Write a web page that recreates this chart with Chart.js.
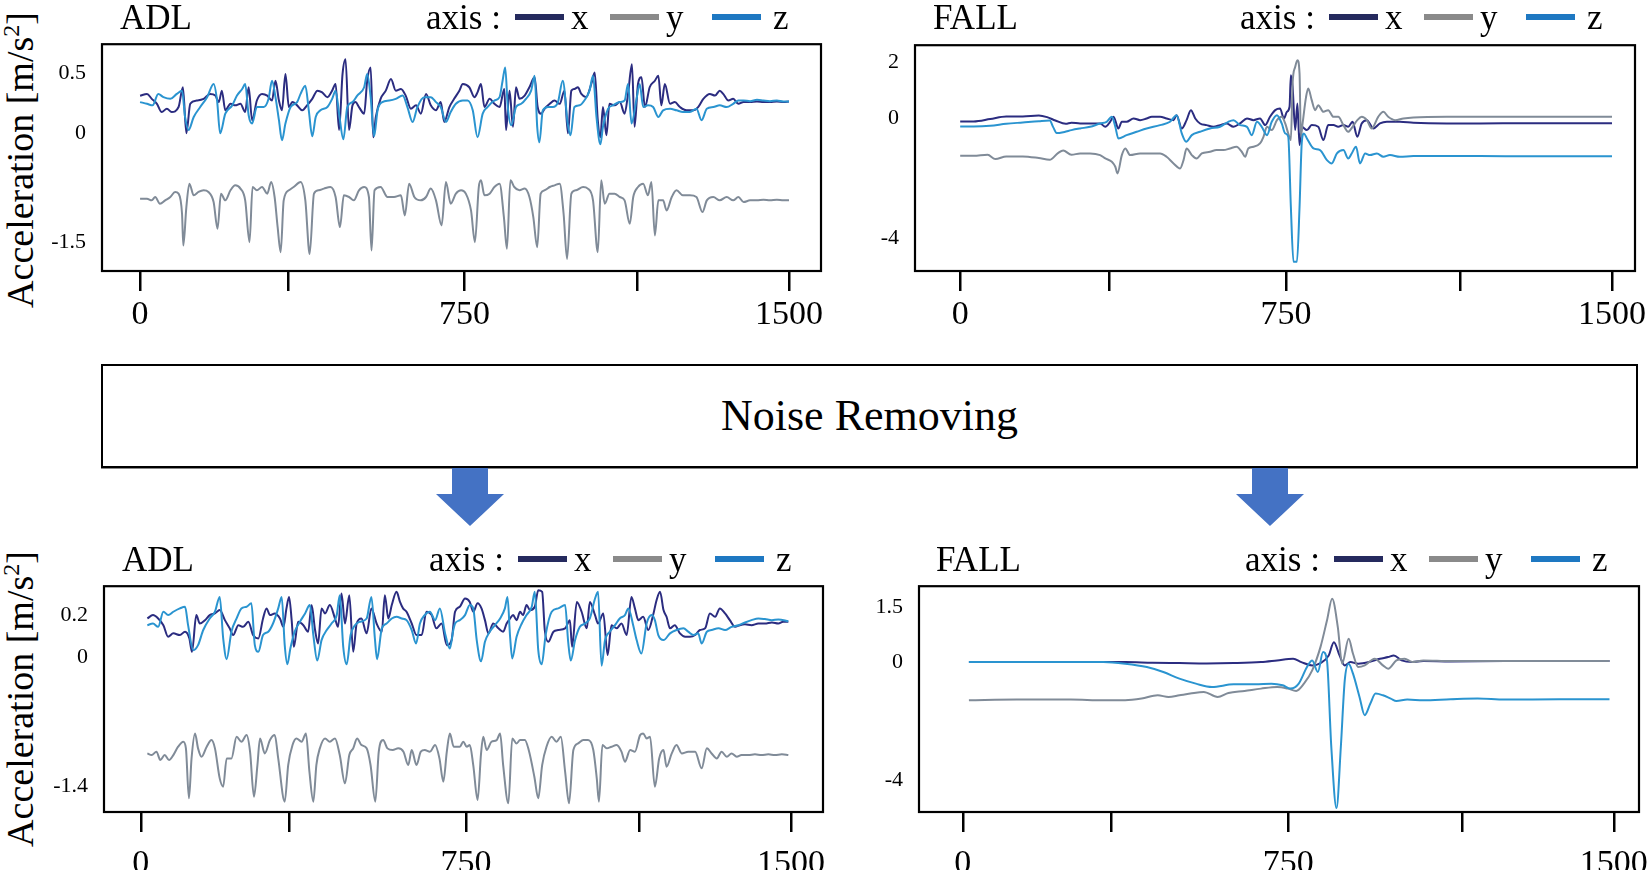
<!DOCTYPE html>
<html>
<head>
<meta charset="utf-8">
<script src="https://cdn.jsdelivr.net/npm/chart.js@4.4.1/dist/chart.umd.min.js"></script>
<style>
html, body { margin: 0; padding: 0; background: #fff; }
body { width: 1650px; height: 870px; position: relative; overflow: hidden; font-family: "Liberation Serif", serif; color: #000; }
.abs { position: absolute; }
.txt { position: absolute; line-height: 1; white-space: nowrap; }
.ylab { position: absolute; white-space: nowrap; font-size: 38px; line-height: 1; transform: translate(-50%, -50%) rotate(-90deg); }
.ylab sup { font-size: 24px; vertical-align: 14px; line-height: 0; }
.lgline { position: absolute; height: 6px; }
.noise { position: absolute; left: 101px; top: 364px; width: 1537px; height: 104px; box-sizing: border-box; border: 2px solid #000; display: flex; align-items: center; justify-content: center; font-size: 44px; line-height: 1; box-shadow: 0 1px 0 #888; }
.arrow { position: absolute; top: 468px; width: 68px; height: 58px; background: #4472c4; clip-path: polygon(23.5% 0, 76.5% 0, 76.5% 45%, 100% 45%, 50% 100%, 0 45%, 23.5% 45%); }
</style>
</head>
<body>
<div class="noise">Noise Removing</div>
<div class="arrow" style="left:436px"></div>
<div class="arrow" style="left:1236px"></div>
<div class="ylab" style="left:20px;top:160px">Acceleration [m/s<sup>2</sup>]</div>
<div class="ylab" style="left:20px;top:699px">Acceleration [m/s<sup>2</sup>]</div>
<script>
// x axis ticks shared by all four panels
var xTickValues = [0, 343, 750, 1150, 1500];
var xTickLabels = ['0', '', '750', '', '1500'];

// y tick labels of each panel
var adlRawTicks = [0.5, 0, -1.5];
var fallRawTicks = [2, 0, -4];
var adlCleanTicks = [0.2, 0, -1.4];
var fallCleanTicks = [1.5, 0, -4];

var axisNames = ['x', 'y', 'z'];

// ADL, raw signal: [sample, acceleration]
var adlRawX = [[0,.31],[16,.325],[27,.284],[39,.243],[50,.175],[62,.202],[73,.175],[89,.216],[99,.38],[107,-.003],[116,.243],[131,.27],[147,.284],[162,.325],[174,.311],[182,.257],[189,.352],[197,.189],[209,.243],[220,.23],[232,.243],[243,.175],[251,.38],[259,.107],[270,.27],[282,.325],[294,.311],[305,.27],[313,.434],[321,.27],[328,.189],[336,.489],[344,.216],[352,.257],[363,.23],[375,.189],[386,.23],[398,.284],[410,.352],[421,.338],[433,.298],[444,.352],[452,.407],[460,.025],[468,.489],[475,.612],[483,.025],[491,.23],[498,.257],[506,.216],[518,.161],[525,.434],[533,.544],[539,-.057],[545,.134],[556,.284],[568,.352],[580,.448],[591,.352],[603,.366],[614,.311],[626,.202],[638,.23],[649,.161],[661,.325],[672,.23],[684,.189],[695,.257],[703,.093],[715,.216],[726,.284],[738,.352],[746,.407],[761,.38],[773,.298],[780,.338],[788,.407],[796,.216],[808,.284],[819,.243],[831,.216],[842,.366],[846,.025],[854,.352],[862,.052],[869,.38],[877,.284],[889,.311],[900,.38],[912,.462],[919,.216],[927,.161],[935,.202],[947,.243],[958,.27],[970,.243],[981,.352],[989,-.003],[997,.352],[1004,.366],[1012,.38],[1020,.325],[1031,.298],[1043,.407],[1051,.503],[1058,.107],[1064,-.057],[1070,.216],[1078,-.03],[1085,.243],[1097,.23],[1109,.257],[1120,.161],[1128,.325],[1137,.571],[1143,.052],[1151,.407],[1159,.462],[1167,.216],[1178,.38],[1190,.434],[1198,.475],[1205,.23],[1213,.407],[1225,.243],[1236,.257],[1248,.216],[1263,.189],[1279,.189],[1290,.216],[1302,.284],[1317,.325],[1329,.311],[1340,.352],[1348,.325],[1360,.27],[1371,.284],[1383,.243],[1395,.257],[1410,.257],[1426,.262],[1441,.257],[1456,.257],[1472,.262],[1487,.257],[1500,.262]];
var adlRawY = [[0,-.899],[16,-.899],[27,-.922],[35,-.876],[46,-.968],[58,-.922],[70,-.876],[81,-.807],[89,-.83],[97,-1.106],[100,-1.541],[107,-1.014],[114,-.693],[124,-.853],[135,-.807],[147,-.784],[158,-.807],[170,-.945],[179,-1.312],[187,-.83],[197,-.922],[209,-.784],[220,-.716],[232,-.761],[243,-.922],[253,-1.495],[260,-.739],[270,-.784],[282,-.739],[294,-.83],[303,-.67],[311,-.876],[318,-1.289],[325,-1.633],[332,-.922],[344,-.784],[355,-.739],[371,-.67],[382,-.922],[392,-1.656],[402,-.83],[413,-.784],[425,-.761],[440,-.739],[452,-.876],[462,-1.289],[471,-.853],[483,-.876],[494,-.922],[506,-.784],[518,-.739],[529,-.876],[535,-1.61],[542,-.784],[556,-.739],[572,-.876],[587,-.876],[603,-.853],[612,-1.128],[622,-.693],[634,-.876],[649,-.922],[661,-.876],[672,-.761],[684,-.922],[697,-1.266],[707,-.67],[718,-.968],[730,-.83],[742,-.784],[753,-.83],[765,-1.06],[774,-1.495],[783,-.739],[788,-.647],[796,-.853],[808,-.83],[819,-.739],[831,-.693],[841,-1.151],[848,-1.587],[856,-.647],[865,-.739],[877,-.784],[889,-.761],[900,-.876],[909,-1.151],[918,-1.564],[926,-.83],[935,-.784],[947,-.739],[958,-.716],[970,-.693],[979,-1.106],[987,-1.725],[997,-.83],[1008,-.784],[1024,-.739],[1035,-.761],[1047,-.922],[1058,-1.633],[1066,-.647],[1074,-.968],[1085,-.83],[1097,-.83],[1109,-.876],[1120,-.922],[1132,-1.243],[1140,-.876],[1151,-.739],[1163,-.693],[1174,-.853],[1182,-.67],[1190,-1.404],[1198,-.922],[1209,-.922],[1217,-1.06],[1229,-.876],[1240,-.784],[1255,-.853],[1271,-.853],[1286,-.876],[1300,-1.083],[1310,-.922],[1325,-.876],[1340,-.922],[1356,-.876],[1371,-.922],[1383,-.876],[1395,-.945],[1410,-.922],[1426,-.922],[1441,-.912],[1456,-.922],[1472,-.912],[1487,-.922],[1500,-.922]];
var adlRawZ = [[0,.257],[16,.243],[29,.23],[42,.325],[54,.298],[70,.284],[85,.325],[97,.352],[104,.134],[112,.025],[124,.134],[139,.216],[155,.298],[170,.407],[178,.27],[185,-.003],[197,.161],[213,.23],[224,.311],[236,.366],[243,.407],[251,.148],[259,.079],[270,.216],[286,.216],[297,.284],[305,.434],[313,.298],[321,.107],[328,-.098],[336,.079],[348,.216],[363,.257],[371,.325],[382,.393],[390,.189],[398,-.044],[406,.134],[417,.189],[433,.216],[444,.284],[452,.352],[460,.161],[470,-.085],[479,.216],[491,.257],[502,.311],[518,.38],[525,.489],[533,.298],[541,-.044],[549,.189],[560,.257],[576,.27],[591,.284],[607,.311],[618,.216],[630,.093],[641,.216],[657,.298],[672,.298],[684,.257],[695,.216],[707,.093],[718,.175],[730,.243],[746,.27],[757,.27],[769,.189],[780,-.057],[792,.161],[803,.216],[819,.27],[831,.298],[838,.434],[844,.544],[850,.216],[858,.066],[869,.216],[881,.243],[892,.284],[904,.352],[912,.475],[918,.052],[923,-.126],[931,.189],[943,.216],[954,.216],[966,.257],[977,.434],[989,.066],[995,-.03],[1004,.216],[1016,.23],[1027,.27],[1039,.352],[1047,.475],[1055,.134],[1064,-.153],[1070,.052],[1082,.202],[1093,.23],[1109,.257],[1120,.27],[1128,.407],[1136,.079],[1147,.27],[1155,.407],[1163,.216],[1174,.23],[1186,.216],[1198,.134],[1209,.189],[1225,.202],[1240,.189],[1255,.175],[1271,.175],[1286,.202],[1298,.107],[1310,.202],[1325,.216],[1340,.23],[1356,.216],[1371,.243],[1383,.27],[1395,.27],[1410,.265],[1426,.276],[1441,.27],[1456,.265],[1472,.27],[1487,.262],[1500,.262]];

// FALL, raw signal
var fallRawX = [[0,-.11],[31,-.11],[69,-.03],[106,.06],[144,.06],[181,.095],[200,.036],[219,-.078],[243,-.19],[256,-.15],[276,-.178],[299,-.178],[322,-.178],[334,-.289],[345,-.122],[353,.048],[364,-.344],[372,-.122],[383,-.122],[399,-.011],[414,-.067],[429,-.011],[441,.048],[460,.048],[475,-.011],[491,-.067],[498,.107],[510,-.344],[521,-.067],[531,.286],[541,-.011],[552,-.178],[567,-.233],[583,-.289],[598,-.233],[613,-.178],[629,-.289],[644,-.178],[660,-.011],[675,-.067],[690,-.011],[702,-.233],[713,.048],[725,.286],[736,.345],[745,-.011],[752,.226],[758,.405],[761,1.536],[765,1.119],[771,-.4],[776,.524],[781,-.9],[786,-.289],[798,-.4],[809,-.233],[824,-.289],[836,-.733],[847,-.233],[859,-.233],[870,-.289],[882,-.233],[893,-.289],[903,-.122],[914,-.622],[924,-.178],[936,-.067],[951,-.344],[966,-.178],[982,-.122],[1012,-.122],[1043,-.156],[1120,-.178],[1196,-.178],[1300,-.17],[1400,-.17],[1500,-.17]];
var fallRawY = [[0,-1.256],[31,-1.256],[63,-1.222],[81,-1.367],[106,-1.278],[144,-1.278],[181,-1.333],[206,-1.389],[225,-1.167],[237,-1.078],[256,-1.222],[276,-1.178],[299,-1.178],[322,-1.233],[334,-1.344],[349,-1.456],[357,-1.622],[362,-1.844],[372,-1.233],[380,-1.011],[391,-1.233],[414,-1.178],[437,-1.178],[460,-1.178],[475,-1.289],[491,-1.511],[506,-1.678],[514,-1.4],[521,-1.011],[533,-1.233],[544,-1.344],[556,-1.178],[575,-1.122],[590,-1.067],[606,-1.067],[621,-1.011],[636,-.956],[648,-1.122],[656,-1.289],[663,-1.011],[675,-.956],[690,-.844],[698,-.622],[706,-.289],[717,-.4],[729,-.067],[740,.048],[748,-.178],[755,-.511],[761,-.733],[765,1.238],[771,1.833],[776,2.071],[781,1.595],[784,-.622],[788,-.178],[796,.762],[801,1.06],[809,.643],[817,.286],[824,.464],[836,.226],[847,.286],[859,.048],[870,.048],[882,-.233],[893,-.456],[903,-.289],[914,-.067],[924,.048],[936,-.067],[947,-.344],[962,.048],[974,.226],[985,.048],[1001,-.067],[1020,-.011],[1043,.024],[1120,.048],[1196,.048],[1300,.05],[1400,.05],[1500,.05]];
var fallRawZ = [[0,-.278],[31,-.278],[69,-.256],[106,-.189],[144,-.144],[181,-.1],[206,-.078],[214,-.3],[222,-.5],[240,-.46],[256,-.4],[276,-.344],[299,-.289],[322,-.178],[337,-.122],[349,.048],[357,-.289],[364,-.678],[383,-.567],[406,-.456],[429,-.344],[460,-.233],[483,-.122],[498,.107],[510,-.511],[520,-.789],[533,-.567],[552,-.456],[575,-.344],[598,-.289],[617,-.122],[629,-.067],[644,-.233],[660,-.289],[671,-.567],[683,-.122],[694,-.289],[706,-.567],[717,-.122],[729,.107],[740,-.178],[748,-.511],[755,-.622],[761,-2.956],[767,-4.789],[775,-4.789],[781,-2.956],[786,-.844],[791,-.511],[798,-.678],[813,-1.011],[828,-1.067],[844,-1.4],[855,-1.511],[867,-1.178],[882,-1.067],[893,-1.344],[901,-1.178],[911,-.956],[920,-1.511],[932,-1.178],[943,-1.233],[959,-1.178],[974,-1.289],[989,-1.233],[1012,-1.289],[1043,-1.267],[1120,-1.267],[1196,-1.267],[1300,-1.27],[1400,-1.27],[1500,-1.27]];

// ADL, after noise removing
var adlCleanX = [[15,.184],[28,.2],[40,.184],[52,.152],[63,.097],[75,.113],[90,.105],[102,.121],[112,.089],[118,.025],[128,.2],[136,.16],[148,.176],[159,.2],[171,.208],[182,.224],[194,.176],[205,.137],[213,.105],[225,.152],[236,.144],[248,.168],[259,.105],[271,.089],[282,.184],[290,.232],[298,.2],[309,.208],[321,.184],[329,.144],[336,.232],[342,.287],[348,.176],[353,.049],[363,.168],[375,.152],[386,.121],[394,.248],[402,.129],[409,.065],[417,.232],[425,.208],[436,.248],[448,.184],[455,.144],[463,.303],[471,.16],[481,.295],[490,.025],[498,.16],[509,.184],[521,.113],[532,.232],[544,.16],[556,.121],[563,.295],[571,.184],[579,.248],[590,.311],[598,.263],[605,.232],[613,.216],[625,.16],[636,.105],[648,.105],[659,.216],[671,.2],[682,.137],[694,.16],[706,.057],[717,.081],[725,.216],[736,.24],[748,.279],[759,.263],[767,.216],[777,.256],[786,.232],[794,.176],[802,.113],[813,.16],[825,.137],[836,.121],[844,.16],[852,.184],[859,.2],[867,.176],[875,.216],[882,.2],[890,.248],[898,.224],[909,.24],[917,.319],[926,.311],[932,.129],[940,.073],[952,.121],[963,.129],[979,.137],[990,.176],[995,.049],[1006,.263],[1017,.216],[1029,.137],[1036,.263],[1048,.2],[1055,.16],[1067,.208],[1077,.01],[1086,.152],[1098,.137],[1109,.16],[1121,.105],[1132,.287],[1140,.232],[1148,.176],[1159,.192],[1171,.129],[1182,.2],[1190,.271],[1198,.311],[1206,.224],[1213,.192],[1221,.137],[1232,.152],[1244,.113],[1256,.097],[1267,.097],[1279,.105],[1290,.129],[1302,.137],[1313,.208],[1325,.192],[1336,.232],[1348,.208],[1359,.176],[1371,.144],[1382,.152],[1394,.156],[1409,.152],[1425,.16],[1440,.16],[1456,.165],[1471,.16],[1482,.168],[1494,.168]];
var adlCleanY = [[15,-1.046],[25,-1.064],[36,-1.027],[45,-1.118],[55,-1.064],[65,-1.118],[75,-1.064],[86,-.973],[98,-.919],[104,-.991],[111,-1.534],[117,-1.1],[125,-.829],[132,-.991],[140,-1.082],[152,-.973],[163,-.901],[171,-.991],[182,-1.317],[190,-1.407],[198,-1.1],[209,-1.1],[221,-.865],[232,-.919],[244,-.847],[252,-1.027],[261,-1.516],[269,-1.172],[275,-.883],[286,-1.046],[298,-.901],[309,-.847],[317,-1.1],[332,-1.57],[340,-1.172],[350,-.955],[359,-.883],[371,-.919],[381,-.829],[389,-1.245],[398,-1.57],[405,-1.172],[413,-.991],[425,-.883],[436,-.919],[448,-.883],[459,-1.064],[471,-1.371],[481,-1.064],[490,-.991],[499,-.883],[509,-.955],[521,-.991],[530,-1.172],[541,-1.57],[549,-1.027],[559,-.901],[569,-.991],[581,-1.009],[594,-.991],[606,-1.027],[617,-1.172],[625,-1.009],[636,-1.172],[646,-1.027],[655,-1.009],[667,-1.027],[679,-.955],[689,-1.1],[698,-1.353],[706,-1.027],[713,-.829],[722,-.973],[736,-.973],[744,-.919],[752,-.973],[759,-.955],[767,-1.172],[777,-1.552],[785,-1.046],[790,-.865],[798,-1.009],[809,-.919],[821,-.901],[829,-.829],[836,-1.172],[848,-1.588],[857,-.883],[867,-.937],[875,-.901],[886,-.901],[895,-1.009],[908,-1.299],[917,-1.534],[926,-1.172],[936,-.973],[948,-.865],[959,-.919],[969,-.865],[979,-1.245],[988,-1.588],[998,-1.009],[1009,-.937],[1021,-.901],[1032,-.901],[1044,-1.009],[1052,-1.317],[1057,-1.57],[1065,-.955],[1075,-.991],[1086,-.973],[1098,-.955],[1109,-1.027],[1117,-1.136],[1129,-1.009],[1140,-1.027],[1152,-.847],[1159,-.829],[1167,-.883],[1175,-.865],[1186,-1.407],[1196,-1.1],[1206,-1.009],[1213,-1.19],[1225,-1.046],[1236,-.955],[1248,-1.046],[1263,-1.027],[1279,-1.027],[1294,-1.208],[1306,-.991],[1317,-1.046],[1329,-1.1],[1340,-1.027],[1352,-1.082],[1363,-1.046],[1375,-1.082],[1386,-1.064],[1402,-1.064],[1417,-1.056],[1432,-1.064],[1448,-1.056],[1463,-1.064],[1479,-1.056],[1494,-1.064]];
var adlCleanZ = [[15,.152],[28,.16],[40,.144],[52,.216],[63,.2],[75,.216],[90,.232],[102,.24],[109,.152],[121,.033],[132,.057],[144,.129],[159,.184],[171,.216],[182,.287],[190,.089],[198,-.022],[209,.121],[221,.184],[232,.232],[244,.24],[255,.256],[263,.057],[271,.025],[282,.105],[294,.121],[305,.16],[317,.232],[325,.287],[332,.057],[338,-.078],[345,.041],[355,.121],[367,.168],[379,.208],[390,.248],[398,.105],[407,-.038],[417,.081],[429,.129],[440,.16],[452,.2],[459,.295],[467,.049],[475,-.078],[484,.105],[494,.152],[505,.168],[521,.184],[532,.287],[540,.089],[545,-.022],[556,.137],[567,.16],[579,.184],[590,.192],[602,.184],[613,.176],[625,.129],[635,.065],[644,.16],[655,.2],[667,.216],[679,.176],[690,.232],[702,.113],[713,.041],[721,.129],[725,.16],[736,.176],[748,.2],[759,.248],[767,.232],[775,.081],[785,-.046],[794,.073],[805,.121],[817,.152],[829,.184],[840,.232],[846,.287],[852,.097],[857,-.014],[867,.097],[879,.16],[890,.2],[902,.24],[909,.311],[917,.033],[925,-.078],[934,.105],[948,.216],[963,.232],[979,.248],[986,.073],[992,-.038],[1002,.081],[1013,.144],[1025,.16],[1036,.184],[1048,.279],[1055,.311],[1063,-.094],[1071,.081],[1082,.121],[1094,.152],[1105,.184],[1117,.2],[1125,.232],[1136,.152],[1144,.081],[1155,.017],[1167,.16],[1179,.2],[1186,.176],[1194,.105],[1206,.081],[1221,.113],[1236,.129],[1252,.137],[1263,.121],[1275,.105],[1286,.113],[1294,.065],[1306,.121],[1317,.129],[1333,.137],[1348,.129],[1363,.144],[1379,.152],[1394,.165],[1409,.176],[1425,.184],[1440,.181],[1456,.176],[1471,.179],[1494,.171]];

// FALL, after noise removing
var fallCleanX = [[14,0],[124,0],[249,0],[324,0],[374,0],[437,-.023],[499,-.034],[562,-.045],[624,-.034],[687,0],[724,.045],[761,.091],[780,0],[805,-.113],[824,-.034],[843,.182],[855,.545],[868,.182],[880,-.113],[893,0],[911,-.056],[936,0],[961,.091],[980,.136],[993,.182],[1011,.045],[1036,0],[1061,.027],[1124,.018],[1249,.027],[1374,.027],[1490,.027]];
var fallCleanY = [[14,-1.296],[124,-1.273],[249,-1.273],[324,-1.296],[374,-1.296],[412,-1.239],[449,-1.127],[474,-1.183],[499,-1.127],[524,-1.07],[555,-1.014],[587,-1.183],[612,-1.048],[649,-.98],[687,-.901],[724,-.845],[749,-.901],[768,-.98],[786,-.732],[805,-.282],[824,.409],[839,1.136],[851,1.727],[864,.955],[874,-.056],[889,.636],[899,.227],[911,-.169],[926,-.113],[949,.091],[968,-.113],[980,-.225],[999,.045],[1018,.091],[1036,0],[1061,.045],[1124,.027],[1249,.027],[1374,.027],[1490,.027]];
var fallCleanZ = [[14,0],[124,0],[249,0],[324,0],[374,-.056],[424,-.169],[462,-.338],[499,-.563],[537,-.732],[574,-.845],[624,-.755],[674,-.755],[711,-.732],[737,-.789],[755,-.901],[774,-.732],[793,-.169],[805,.045],[818,-.338],[830,.273],[839,.045],[849,-2.873],[861,-4.958],[871,-2.873],[880,-.62],[889,-.056],[899,-.394],[914,-1.183],[926,-1.803],[939,-1.408],[951,-1.07],[968,-1.127],[986,-1.239],[999,-1.318],[1024,-1.273],[1061,-1.296],[1124,-1.262],[1186,-1.239],[1249,-1.273],[1374,-1.262],[1490,-1.262]];

var lineColors = ['#2b2c80', '#808b98', '#2a94d0'];
var legendColors = ['#252a5e', '#8a8a8a', '#1e78c2'];

// y axis of the figure is not linear: it is drawn piecewise between its labels
class KnotScale extends Chart.LinearScale {
  getPixelForValue(value) {
    var k = this.options.knots;
    if (value === null || value === undefined || isNaN(value)) return NaN;
    var i = 0;
    while (i < k.length - 2 && value > k[i + 1][0]) i++;
    var a = k[i], b = k[i + 1];
    return this.getPixelForDecimal(a[1] + (value - a[0]) / (b[0] - a[0]) * (b[1] - a[1]));
  }
  getValueForPixel(pixel) {
    var k = this.options.knots;
    var d = this.getDecimalForPixel(pixel);
    var i = 0;
    while (i < k.length - 2 && d > k[i + 1][1]) i++;
    var a = k[i], b = k[i + 1];
    return a[0] + (d - a[1]) / (b[1] - a[1]) * (b[0] - a[0]);
  }
}
KnotScale.id = 'knot';
KnotScale.defaults = Chart.LinearScale.defaults;
Chart.register(KnotScale);

Chart.defaults.font.family = '"Liberation Serif", serif';
Chart.defaults.color = '#000';

var framePlugin = {
  id: 'frame',
  afterDatasetsDraw: function(chart) {
    var a = chart.chartArea, ctx = chart.ctx;
    ctx.save();
    ctx.strokeStyle = '#000';
    ctx.lineWidth = 2.2;
    ctx.strokeRect(a.left, a.top, a.right - a.left, a.bottom - a.top);
    ctx.restore();
  }
};

var panels = [
  { title: 'ADL', box: [102, 44, 821, 271], xMin: -88, xMax: 1574, ticks: adlRawTicks,
    knots: [[-1.89, 0], [-1.5, 0.1256], [0, 0.608], [0.5, 0.874], [0.737, 1]],
    series: [adlRawX, adlRawY, adlRawZ], titleX: 120, legendX: 426, base: 29, xPad: 4 },
  { title: 'FALL', box: [915, 45, 1635, 271], xMin: -104, xMax: 1553, ticks: fallRawTicks,
    knots: [[-5.1, 0], [-4, 0.146], [0, 0.677], [2, 0.925], [2.6, 1]],
    series: [fallRawX, fallRawY, fallRawZ], titleX: 933, legendX: 1240, base: 29, xPad: 4 },
  { title: 'ADL', box: [104, 586, 823, 812], xMin: -85, xMax: 1574, ticks: adlCleanTicks,
    knots: [[-1.683, 0], [-1.4, 0.115], [0, 0.686], [0.2, 0.872], [0.338, 1]],
    series: [adlCleanX, adlCleanY, adlCleanZ], titleX: 122, legendX: 429, base: 571, xPad: 12 },
  { title: 'FALL', box: [919, 586, 1639, 812], xMin: -101, xMax: 1558, ticks: fallCleanTicks,
    knots: [[-5.09, 0], [-4, 0.142], [0, 0.664], [1.5, 0.907], [2.07, 1]],
    series: [fallCleanX, fallCleanY, fallCleanZ], titleX: 936, legendX: 1245, base: 571, xPad: 12 }
];

function chartConfig(p) {
  return {
    type: 'line',
    data: {
      datasets: p.series.map(function(s, i) {
        // z drawn on top, x underneath
        return { label: axisNames[i], data: s, borderColor: lineColors[i], borderWidth: 2,
                 pointRadius: 0, cubicInterpolationMode: 'monotone', fill: false, order: 3 - i };
      })
    },
    options: {
      responsive: false, animation: false, events: [],
      layout: { padding: { top: 6, right: 40, left: 0, bottom: 0 } },
      plugins: { legend: { display: false }, tooltip: { enabled: false } },
      scales: {
        x: {
          type: 'linear', min: p.xMin, max: p.xMax,
          afterBuildTicks: function(s) { s.ticks = xTickValues.map(function(v) { return { value: v }; }); },
          afterFit: function(s) { s.height = 80; },
          grid: { drawOnChartArea: false, drawTicks: true, tickLength: 20, color: '#000', lineWidth: 2.5 },
          border: { display: false },
          ticks: { autoSkip: false, maxRotation: 0, padding: p.xPad, font: { size: 34 }, color: '#000',
                   callback: function(v, i) { return xTickLabels[i]; } }
        },
        y: {
          type: 'knot', knots: p.knots, min: p.knots[0][0], max: p.knots[p.knots.length - 1][0],
          afterBuildTicks: function(s) { s.ticks = p.ticks.map(function(v) { return { value: v }; }); },
          afterFit: function(s) { s.width = 90; },
          grid: { display: false, drawTicks: false },
          border: { display: false },
          ticks: { padding: 16, font: { size: 22 }, color: '#000',
                   callback: function(v) { return String(v); } }
        }
      }
    },
    plugins: [framePlugin]
  };
}

function drawInto(wrap, p, w, h) {
  wrap.innerHTML = '';
  var c = document.createElement('canvas');
  c.width = w; c.height = h;
  c.style.width = w + 'px'; c.style.height = h + 'px';
  wrap.appendChild(c);
  return new Chart(c, chartConfig(p));
}

function addText(str, left, baseline, size) {
  var d = document.createElement('div');
  d.className = 'txt';
  d.style.fontSize = size + 'px';
  d.style.left = left + 'px';
  d.style.top = (baseline - 0.8375 * size) + 'px';
  d.textContent = str;
  document.body.appendChild(d);
}

panels.forEach(function(p) {
  var wrap = document.createElement('div');
  wrap.className = 'abs';
  document.body.appendChild(wrap);
  var bw = p.box[2] - p.box[0], bh = p.box[3] - p.box[1];
  var w = bw + 140, h = bh + 100;
  var chart = drawInto(wrap, p, w, h);
  var a = chart.chartArea;
  w = Math.round(w + bw - (a.right - a.left));
  h = Math.round(h + bh - (a.bottom - a.top));
  chart.destroy();
  chart = drawInto(wrap, p, w, h);
  wrap.style.left = (p.box[0] - chart.chartArea.left) + 'px';
  wrap.style.top = (p.box[1] - chart.chartArea.top) + 'px';

  // title and legend
  addText(p.title, p.titleX, p.base, 35);
  addText('axis :', p.legendX, p.base, 35);
  var lineOff = [89, 184, 286], letterOff = [145, 240, 347];
  axisNames.forEach(function(n, i) {
    var l = document.createElement('div');
    l.className = 'lgline';
    l.style.left = (p.legendX + lineOff[i]) + 'px';
    l.style.top = (p.base - 15) + 'px';
    l.style.width = '49px';
    l.style.background = legendColors[i];
    document.body.appendChild(l);
    addText(n, p.legendX + letterOff[i], p.base, 35);
  });
});
</script>
</body>
</html>
